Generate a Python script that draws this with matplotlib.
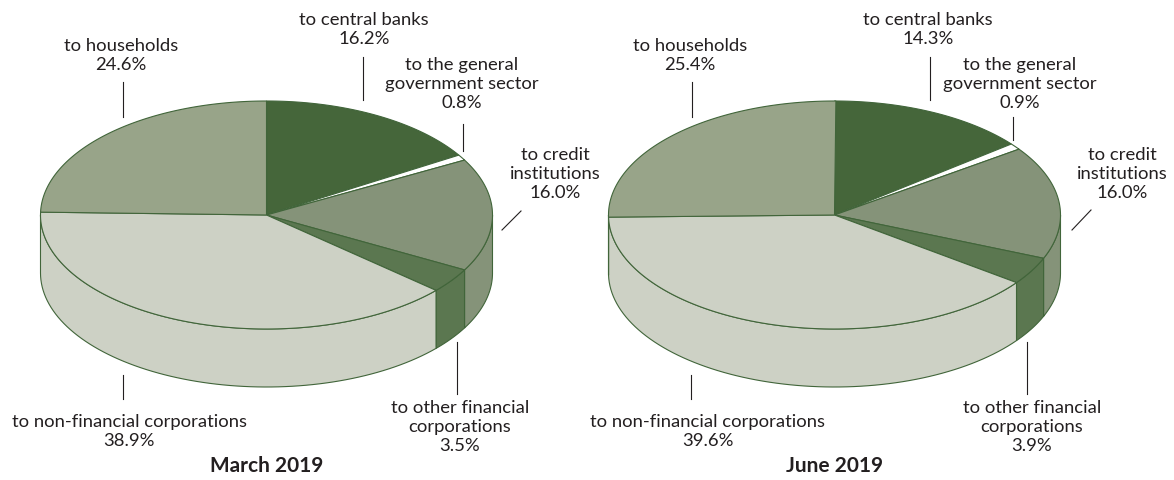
import matplotlib
matplotlib.use('Agg')
import matplotlib.pyplot as plt
import numpy as np
from matplotlib.patches import Polygon

# Loan structure by sector, shares in %
categories = ["to central banks", "to the general government sector",
              "to credit institutions", "to other financial corporations",
              "to non-financial corporations", "to households"]
march_2019 = [16.2, 0.8, 16.0, 3.5, 38.9, 24.6]
june_2019 = [14.3, 0.9, 16.0, 3.9, 39.6, 25.4]
titles = ["March 2019", "June 2019"]

colors = ["#45663a", "#ffffff", "#859379", "#5b7750", "#cdd1c5", "#98a489"]
edge = "#41653a"
text_color = "#231f20"

W, H = 1174, 481
fig = plt.figure(figsize=(W / 100, H / 100), dpi=100)
ax = fig.add_axes([0, 0, 1, 1])
ax.set_xlim(0, W)
ax.set_ylim(H, 0)
ax.axis('off')

plt.rcParams['font.family'] = ['Lato', 'DejaVu Sans']


def ell(cx, cy, rx, ry, t, dy=0.0):
    t = np.radians(t)
    return np.column_stack([cx + rx * np.cos(t), cy - ry * np.sin(t) + dy])


def pie3d(cx, cy, rx, ry, depth, values):
    starts = 90 - np.cumsum([0] + values[:-1]) * 3.6
    ends = starts - np.array(values) * 3.6
    # side walls (front half only)
    for s, e, c in zip(starts, ends, colors):
        lo, hi = max(e, -180), min(s, 0)
        if lo >= hi:
            continue
        t = np.linspace(lo, hi, 80)
        top = ell(cx, cy, rx, ry, t)
        bot = ell(cx, cy, rx, ry, t[::-1], depth)
        ax.add_patch(Polygon(np.vstack([top, bot]), closed=True, fc=c,
                             ec=edge, lw=0.8, zorder=2))
    # top faces
    for s, e, c in zip(starts, ends, colors):
        t = np.linspace(s, e, 120)
        pts = np.vstack([[cx, cy], ell(cx, cy, rx, ry, t)])
        ax.add_patch(Polygon(pts, closed=True, fc=c, ec=edge, lw=0.8,
                             zorder=3))


def label(x, y, lines):
    for i, s in enumerate(lines):
        ax.text(x, y + i * 19, s, ha='center', va='center', fontsize=13.3,
                color=text_color)


def leader(x0, y0, x1, y1):
    ax.plot([x0, x1], [y0, y1], color=text_color, lw=0.8, zorder=4)


centers = [266.5, 834.5]
cy, rx, ry, depth = 216, 226, 114, 58

for k, (cx, vals, title) in enumerate(zip(centers, [march_2019, june_2019], titles)):
    pie3d(cx, cy, rx, ry, depth, vals)
    pct = [f"{v:.1f}%" for v in vals]
    # labels
    cb_x = 364 if k == 0 else 928
    gg_x = 462 if k == 0 else 1020
    ci_x = 555 if k == 0 else 1122
    hh_x = 121 if k == 0 else 690
    nf_x = 129 if k == 0 else 708
    of_x = 460 if k == 0 else 1032
    label(cb_x, 20, [categories[0], pct[0]])
    label(gg_x, 65, ["to the general", "government sector", pct[1]])
    label(ci_x, 155, ["to credit", "institutions", pct[2]])
    label(hh_x, 46, [categories[5], pct[5]])
    label(nf_x, 422, [categories[4], pct[4]])
    label(of_x, 408, ["to other financial", "corporations", pct[3]])
    ax.text(cx, 466, title, ha='center', va='center', fontsize=15,
            fontweight='bold', color=text_color)
    # leader lines
    if k == 0:
        leader(123, 83, 123, 118)
        leader(363, 58, 363, 101)
        leader(463, 125, 463, 152)
        leader(502, 231, 521, 212)
        leader(123, 376, 123, 400)
        leader(457, 343, 457, 395)
    else:
        leader(692, 83, 692, 118)
        leader(930, 58, 930, 101)
        leader(1013, 118, 1013, 141)
        leader(1072, 231, 1091, 211)
        leader(691, 376, 691, 400)
        leader(1027, 343, 1027, 395)

fig.savefig("out.png", dpi=100)
